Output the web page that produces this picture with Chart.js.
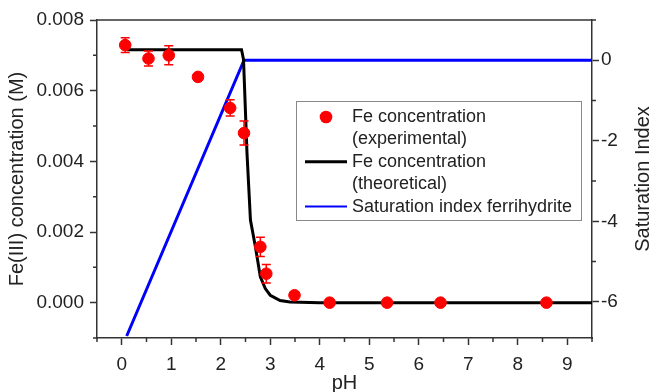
<!DOCTYPE html>
<html>
<head>
<meta charset="utf-8">
<script src="https://cdn.jsdelivr.net/npm/chart.js@4/dist/chart.umd.min.js"></script>
<style>
html,body{margin:0;padding:0;background:#fff;}
</style>
</head>
<body>
<canvas id="grafico" width="652" height="392"></canvas>
<script>
// experimental Fe points (with error bars)
const phExp = [0.07, 0.54, 0.95, 1.54, 2.19, 2.47, 2.80, 2.92, 3.49, 4.20, 5.36, 6.44, 8.58];
const feExp = [0.00729, 0.00691, 0.00700, 0.00639, 0.00551, 0.00480, 0.00158, 0.00082, 0.00021, 0, 0, 0, 0];
const feErr = [0.00021, 0.00021, 0.00027, 0, 0.00023, 0.00034, 0.00027, 0.00026, 0, 0, 0, 0, 0];

// theoretical Fe curve
const phTheo = [0.10, 2.42, 2.46, 2.53, 2.60, 2.70, 2.80, 2.90, 3.00, 3.20, 3.40, 4.00, 9.50];
const feTheo = [0.00716, 0.00716, 0.00688, 0.00424, 0.00234, 0.00158, 0.00073, 0.00040, 0.00021, 0.00006, 0.00002, 0, 0];

// saturation index ferrihydrite
const phSI = [0.10, 2.47, 9.50];
const siVals = [-6.85, 0, 0];

// ticks
const xTicks = [0, 1, 2, 3, 4, 5, 6, 7, 8, 9];
const xMinor = [-0.5, 0.5, 1.5, 2.5, 3.5, 4.5, 5.5, 6.5, 7.5, 8.5, 9.5];
const yTicks = [0, 0.002, 0.004, 0.006, 0.008];
const yMinor = [-0.001, 0.001, 0.003, 0.005, 0.007];
const y1Ticks = [-6, -4, -2, 0];
const y1Minor = [-5, -3, -1, 1];

const FONT = "'Liberation Sans', Arial, sans-serif";
const TXT = '#222';
const AX = '#333';

const extras = {
    id: 'extras',
    afterDatasetsDraw(chart) {
        const c = chart.ctx, x = chart.scales.x, y = chart.scales.y;
        c.save();
        c.strokeStyle = '#ff0000';
        c.lineWidth = 1.5;
        phExp.forEach((p, i) => {
            if (!feErr[i]) return;
            const px = x.getPixelForValue(p);
            const ya = y.getPixelForValue(feExp[i] + feErr[i]);
            const yb = y.getPixelForValue(feExp[i] - feErr[i]);
            c.beginPath();
            c.moveTo(px, ya); c.lineTo(px, yb);
            c.moveTo(px - 4.5, ya); c.lineTo(px + 4.5, ya);
            c.moveTo(px - 4.5, yb); c.lineTo(px + 4.5, yb);
            c.stroke();
        });
        c.restore();
    },
    afterDraw(chart) {
        const c = chart.ctx, a = chart.chartArea;
        const x = chart.scales.x, y = chart.scales.y, y1 = chart.scales.y1;
        c.save();
        // frame top
        c.strokeStyle = AX;
        c.lineWidth = 1.5;
        c.beginPath();
        c.moveTo(a.left, a.top); c.lineTo(a.right, a.top);
        // minor ticks
        xMinor.forEach(v => { const p = x.getPixelForValue(v); c.moveTo(p, a.bottom); c.lineTo(p, a.bottom + 4); });
        yMinor.forEach(v => { const p = y.getPixelForValue(v); c.moveTo(a.left, p); c.lineTo(a.left - 4, p); });
        y1Minor.forEach(v => { const p = y1.getPixelForValue(v); c.moveTo(a.right, p); c.lineTo(a.right + 4, p); });
        c.stroke();

        // right axis title (reads bottom to top)
        c.fillStyle = TXT;
        c.font = '20px ' + FONT;
        c.textAlign = 'center';
        c.textBaseline = 'middle';
        c.translate(643, (a.top + a.bottom) / 2);
        c.rotate(-Math.PI / 2);
        c.fillText('Saturation Index', 0, 0);
        c.setTransform(1, 0, 0, 1, 0, 0);

        // legend
        c.fillStyle = '#fff';
        c.fillRect(296, 101, 285, 119);
        c.strokeStyle = '#888';
        c.lineWidth = 1;
        c.strokeRect(296.5, 101.5, 285, 119);
        c.font = '18px ' + FONT;
        c.textAlign = 'left';
        c.fillStyle = TXT;
        let ly = 117;
        chart.data.datasets.forEach(ds => {
            const lines = ds.label.split('\n');
            if (ds.showLine) {
                c.strokeStyle = ds.borderColor;
                c.lineWidth = ds.legendWidth;
                c.beginPath();
                c.moveTo(305, ly); c.lineTo(347, ly);
                c.stroke();
            } else {
                c.fillStyle = ds.backgroundColor;
                c.beginPath();
                c.arc(326, ly, 6.3, 0, Math.PI * 2);
                c.fill();
            }
            c.fillStyle = TXT;
            lines.forEach(t => { c.fillText(t, 352, ly); ly += 22.4; });
        });
        c.restore();
    }
};

const ctx = document.getElementById('grafico');

new Chart(ctx, {
    type: 'scatter',
    data: {
        datasets: [
            {
                label: 'Fe concentration\n(experimental)',
                data: phExp.map((p, i) => ({x: p, y: feExp[i]})),
                yAxisID: 'y',
                backgroundColor: '#ff0000',
                borderColor: '#ff0000',
                borderWidth: 1,
                pointRadius: 5.8,
                pointHoverRadius: 5.8,
                order: 0
            },
            {
                label: 'Fe concentration\n(theoretical)',
                data: phTheo.map((p, i) => ({x: p, y: feTheo[i]})),
                yAxisID: 'y',
                showLine: true,
                borderColor: '#000000',
                borderWidth: 3,
                legendWidth: 3,
                pointRadius: 0,
                order: 1
            },
            {
                label: 'Saturation index ferrihydrite',
                data: phSI.map((p, i) => ({x: p, y: siVals[i]})),
                yAxisID: 'y1',
                showLine: true,
                borderColor: '#0000ff',
                borderWidth: 3,
                legendWidth: 2,
                pointRadius: 0,
                order: 2
            }
        ]
    },
    options: {
        responsive: false,
        animation: false,
        layout: { padding: { top: 20, left: 0, right: 0, bottom: 0 } },
        plugins: {
            legend: { display: false },
            tooltip: { enabled: false }
        },
        scales: {
            x: {
                type: 'linear',
                position: 'bottom',
                min: -0.5,
                max: 9.5,
                afterBuildTicks: s => { s.ticks = xTicks.map(v => ({value: v})); },
                afterFit: s => { s.height = 54; },
                ticks: { font: {family: FONT, size: 19}, color: TXT, padding: 8, maxRotation: 0, autoSkip: false },
                grid: { drawOnChartArea: false, tickLength: 7, tickColor: AX, tickWidth: 1.5 },
                border: { color: AX, width: 1.5 },
                title: { display: true, text: 'pH', color: TXT, font: {family: FONT, size: 20, lineHeight: 1}, padding: {top: 0, bottom: -1} }
            },
            y: {
                type: 'linear',
                position: 'left',
                min: -0.001,
                max: 0.008,
                afterBuildTicks: s => { s.ticks = yTicks.map(v => ({value: v})); },
                afterFit: s => { s.width = 97; },
                ticks: { font: {family: FONT, size: 19}, color: TXT, padding: 6, callback: v => v.toFixed(3) },
                grid: { drawOnChartArea: false, tickLength: 7, tickColor: AX, tickWidth: 1.5 },
                border: { color: AX, width: 1.5 },
                title: { display: true, text: 'Fe(III) concentration (M)', color: TXT, font: {family: FONT, size: 20, lineHeight: 1}, padding: {top: 7, bottom: 0} }
            },
            y1: {
                type: 'linear',
                position: 'right',
                min: -6.9,
                max: 1,
                afterBuildTicks: s => { s.ticks = y1Ticks.map(v => ({value: v})); },
                afterFit: s => { s.width = 60; },
                ticks: { font: {family: FONT, size: 19}, color: TXT, padding: 2 },
                grid: { drawOnChartArea: false, tickLength: 7, tickColor: AX, tickWidth: 1.5 },
                border: { color: AX, width: 1.5 }
            }
        }
    },
    plugins: [extras]
});
</script>
</body>
</html>
